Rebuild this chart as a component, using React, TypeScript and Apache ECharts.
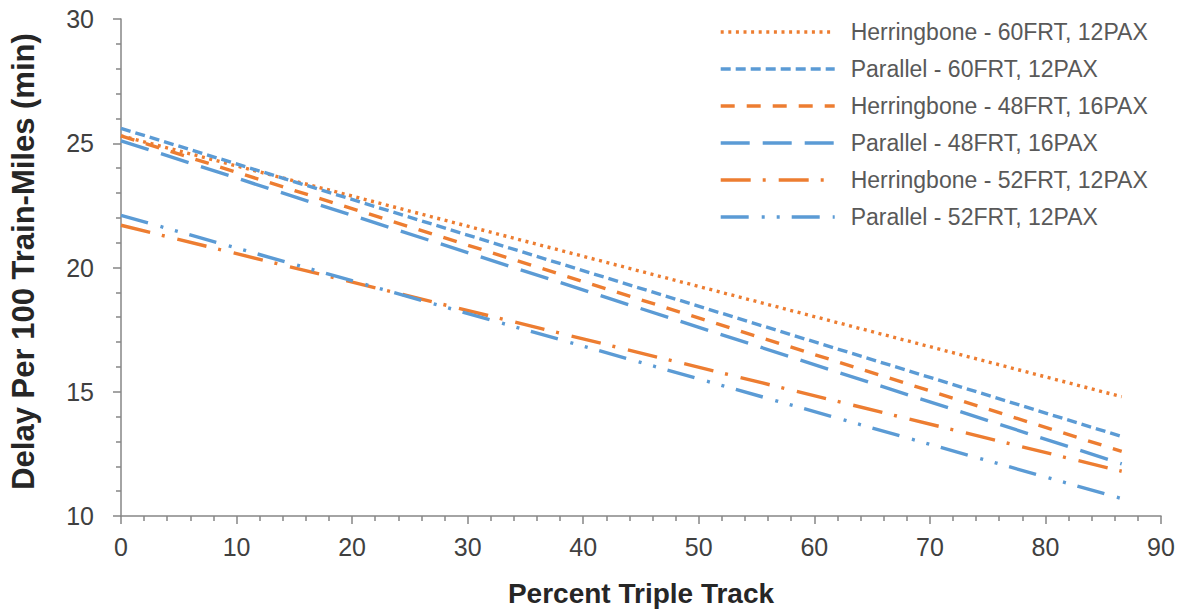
import React, { useEffect, useRef } from "react";
import * as echarts from "echarts";

const seriesNames = [
  "Herringbone - 60FRT, 12PAX",
  "Parallel - 60FRT, 12PAX",
  "Herringbone - 48FRT, 16PAX",
  "Parallel - 48FRT, 16PAX",
  "Herringbone - 52FRT, 12PAX",
  "Parallel - 52FRT, 12PAX",
];

const xStart = 0;
const xEnd = 86.6;

const herringbone60 = [25.3, 14.8];
const parallel60 = [25.6, 13.2];
const herringbone48 = [25.3, 12.6];
const parallel48 = [25.1, 12.1];
const herringbone52 = [21.7, 11.8];
const parallel52 = [22.1, 10.7];

const seriesValues = [herringbone60, parallel60, herringbone48, parallel48, herringbone52, parallel52];

const ORANGE = "#ED7D31";
const BLUE = "#5B9BD5";
const colors = [ORANGE, BLUE, ORANGE, BLUE, ORANGE, BLUE];
const dashes = [
  [3, 4.6],
  [10, 5],
  [14, 12],
  [29, 13],
  [30, 12, 3, 13],
  [28, 13, 3, 12, 3, 12],
];

export default function App() {
  const ref = useRef<HTMLDivElement>(null);
  useEffect(() => {
    if (!ref.current) return;
    const chart = echarts.init(ref.current, null, { renderer: "svg" });
    const font = "'Liberation Sans', Arial, sans-serif";
    const axisColor = "#868686";
    chart.setOption({
      animation: false,
      textStyle: { fontFamily: font },
      grid: { left: 120, right: 22, top: 19, bottom: 97, containLabel: false },
      legend: {
        orient: "vertical",
        left: 714,
        top: 15,
        itemWidth: 114,
        itemHeight: 14,
        itemGap: 13,
        data: seriesNames,
        itemStyle: { opacity: 0 },
        lineStyle: { width: 3.4 },
        textStyle: {
          fontFamily: font,
          fontSize: 23,
          color: "#595959",
          lineHeight: 24,
          padding: [0, 0, 0, 11],
        },
      },
      xAxis: {
        type: "value",
        min: 0,
        max: 90,
        interval: 10,
        name: "Percent Triple Track",
        nameLocation: "middle",
        nameGap: 63,
        nameTextStyle: { fontFamily: font, fontSize: 28, fontWeight: "bold", color: "#262626" },
        axisLine: { show: true, lineStyle: { color: axisColor, width: 1.5 } },
        axisTick: { show: true, length: 8, lineStyle: { color: axisColor, width: 1.5 } },
        minorTick: { show: true, splitNumber: 5, length: 5, lineStyle: { color: axisColor, width: 1.5 } },
        splitLine: { show: false },
        axisLabel: { fontFamily: font, fontSize: 25, color: "#404040", margin: 18 },
      },
      yAxis: {
        type: "value",
        min: 10,
        max: 30,
        interval: 5,
        name: "Delay Per 100 Train-Miles (min)",
        nameLocation: "middle",
        nameGap: 82,
        nameRotate: 90,
        nameTextStyle: {
          fontFamily: font,
          fontSize: 31,
          fontWeight: "bold",
          color: "#262626",
          padding: [0, 0, 0, 12],
        },
        axisLine: { show: true, lineStyle: { color: axisColor, width: 1.5 } },
        axisTick: { show: true, length: 8, lineStyle: { color: axisColor, width: 1.5 } },
        minorTick: { show: true, splitNumber: 5, length: 5, lineStyle: { color: axisColor, width: 1.5 } },
        splitLine: { show: false },
        axisLabel: { fontFamily: font, fontSize: 25, color: "#404040", margin: 27 },
      },
      series: seriesNames.map((name, i) => ({
        name,
        type: "line",
        symbol: "none",
        showSymbol: false,
        color: colors[i],
        data: [
          [xStart, seriesValues[i][0]],
          [xEnd, seriesValues[i][1]],
        ],
        lineStyle: { color: colors[i], width: 3.4, type: dashes[i], cap: "butt" },
      })),
    });
    return () => chart.dispose();
  }, []);
  return (
    <div
      ref={ref}
      style={{ position: "absolute", left: 0, top: 0, width: 1183, height: 613, background: "#fff" }}
    />
  );
}
